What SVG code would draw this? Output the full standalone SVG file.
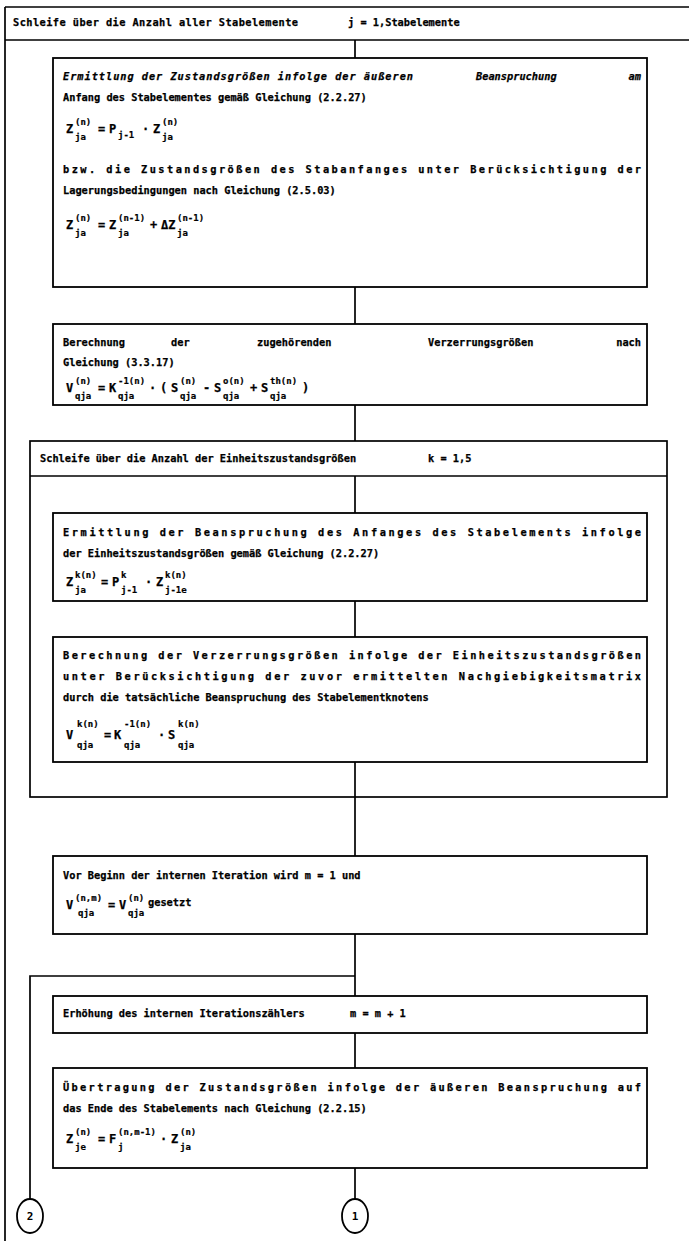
<svg xmlns="http://www.w3.org/2000/svg" width="689" height="1241" viewBox="0 0 689 1241">
<style>
.ln{stroke:#000;stroke-width:1.7;fill:none}
.bx{stroke:#000;stroke-width:1.8;fill:#fff}
.t{font-family:"DejaVu Sans Mono","Liberation Mono",monospace;font-size:10.3px;font-weight:bold;fill:#000;stroke:#000;stroke-width:0.25}
.it{font-style:italic}
.m{font-family:"DejaVu Sans Mono","Liberation Mono",monospace;font-size:12px;font-weight:bold;fill:#000;stroke:#000;stroke-width:0.25}
.s{font-family:"DejaVu Sans Mono","Liberation Mono",monospace;font-size:9px;font-weight:bold;fill:#000;stroke:#000;stroke-width:0.2}
.c{font-family:"DejaVu Sans Mono","Liberation Mono",monospace;font-size:11px;font-weight:bold;fill:#000;text-anchor:middle}
</style>
<rect width="689" height="1241" fill="#fff"/>

<g id="connectors">
<line class="ln" x1="355" y1="40" x2="355" y2="58"/>
<line class="ln" x1="355" y1="287" x2="355" y2="324"/>
<line class="ln" x1="355" y1="405" x2="355" y2="441"/>
<line class="ln" x1="355" y1="476" x2="355" y2="513"/>
<line class="ln" x1="355" y1="601" x2="355" y2="637"/>
<line class="ln" x1="355" y1="762" x2="355" y2="856"/>
<line class="ln" x1="355" y1="934" x2="355" y2="996"/>
<polyline class="ln" points="355,976 30,976 30,1199"/>
<line class="ln" x1="355" y1="1033" x2="355" y2="1068"/>
<line class="ln" x1="355" y1="1168" x2="355" y2="1199"/>
</g>

<g id="outer-loop">
<line class="ln" x1="5" y1="7" x2="689" y2="7"/>
<line class="ln" x1="5" y1="40" x2="689" y2="40"/>
<line class="ln" x1="5" y1="7" x2="5" y2="1241"/>
<text class="t" x="13" y="26" textLength="285" lengthAdjust="spacing">Schleife über die Anzahl aller Stabelemente</text>
<text class="t" x="348" y="26">j = 1,Stabelemente</text>
</g>

<g id="box1">
<rect class="bx" x="53" y="58" width="594" height="229"/>
<text class="t it" x="63" y="80" textLength="350" lengthAdjust="spacing">Ermittlung der Zustandsgrößen infolge der äußeren</text>
<text class="t it" x="476" y="80">Beanspruchung</text>
<text class="t it" x="641" y="80" text-anchor="end">am</text>
<text class="t" x="63" y="101">Anfang des Stabelementes gemäß Gleichung (2.2.27)</text>
<text class="m" x="66" y="133">Z</text><text class="s" x="75" y="125">(n)</text><text class="s" x="75" y="140">ja</text>
<text class="m" x="98" y="133">=</text><text class="m" x="109" y="133">P</text><text class="s" x="118" y="138">j-1</text>
<text class="m" x="142" y="133">·</text><text class="m" x="153" y="133">Z</text><text class="s" x="162" y="125">(n)</text><text class="s" x="162" y="140">ja</text>
<text class="t" x="63" y="173" textLength="578" lengthAdjust="spacing">bzw. die Zustandsgrößen  des Stabanfanges unter Berücksichtigung der</text>
<text class="t" x="63" y="194">Lagerungsbedingungen nach Gleichung (2.5.03)</text>
<text class="m" x="66" y="229">Z</text><text class="s" x="75" y="221">(n)</text><text class="s" x="75" y="236">ja</text>
<text class="m" x="98" y="229">=</text><text class="m" x="109" y="229">Z</text><text class="s" x="118" y="221">(n-1)</text><text class="s" x="118" y="236">ja</text>
<text class="m" x="150" y="229">+</text><text class="m" x="161" y="229">ΔZ</text><text class="s" x="177" y="221">(n-1)</text><text class="s" x="177" y="236">ja</text>
</g>

<g id="box2">
<rect class="bx" x="53" y="324" width="594" height="81"/>
<text class="t" x="63" y="346">Berechnung</text>
<text class="t" x="171" y="346">der</text>
<text class="t" x="257" y="346">zugehörenden</text>
<text class="t" x="428" y="346">Verzerrungsgrößen</text>
<text class="t" x="641" y="346" text-anchor="end">nach</text>
<text class="t" x="63" y="366">Gleichung (3.3.17)</text>
<text class="m" x="66" y="392">V</text><text class="s" x="75" y="384">(n)</text><text class="s" x="75" y="399">qja</text>
<text class="m" x="98" y="392">=</text><text class="m" x="109" y="392">K</text><text class="s" x="118" y="384">-1(n)</text><text class="s" x="118" y="399">qja</text>
<text class="m" x="149" y="392">·</text><text class="m" x="160" y="392">(</text>
<text class="m" x="171" y="392">S</text><text class="s" x="180" y="384">(n)</text><text class="s" x="180" y="399">qja</text>
<text class="m" x="203" y="392">-</text><text class="m" x="214" y="392">S</text><text class="s" x="223" y="384">o(n)</text><text class="s" x="223" y="399">qja</text>
<text class="m" x="250" y="392">+</text><text class="m" x="261" y="392">S</text><text class="s" x="270" y="384">th(n)</text><text class="s" x="270" y="399">qja</text>
<text class="m" x="302" y="392">)</text>
</g>

<g id="inner-loop">
<rect class="ln" x="30" y="441" width="637" height="356"/>
<line class="ln" x1="30" y1="476" x2="667" y2="476"/>
<text class="t" x="40" y="462">Schleife über die Anzahl der Einheitszustandsgrößen</text>
<text class="t" x="428" y="462">k = 1,5</text>
</g>

<g id="box3">
<rect class="bx" x="53" y="513" width="594" height="88"/>
<text class="t" x="63" y="536" textLength="578" lengthAdjust="spacing">Ermittlung der Beanspruchung des Anfanges des  Stabelements  infolge</text>
<text class="t" x="63" y="557">der Einheitszustandsgrößen gemäß Gleichung (2.2.27)</text>
<text class="m" x="66" y="586">Z</text><text class="s" x="75" y="578">k(n)</text><text class="s" x="75" y="593">ja</text>
<text class="m" x="101" y="586">=</text><text class="m" x="112" y="586">P</text><text class="s" x="121" y="578">k</text><text class="s" x="121" y="593">j-1</text>
<text class="m" x="145" y="586">·</text><text class="m" x="156" y="586">Z</text><text class="s" x="165" y="578">k(n)</text><text class="s" x="165" y="593">j-1e</text>
</g>

<g id="box4">
<rect class="bx" x="53" y="637" width="594" height="125"/>
<text class="t" x="63" y="659" textLength="578" lengthAdjust="spacing">Berechnung der Verzerrungsgrößen infolge der  Einheitszustandsgrößen</text>
<text class="t" x="63" y="680" textLength="578" lengthAdjust="spacing">unter Berücksichtigung  der  zuvor ermittelten Nachgiebigkeitsmatrix</text>
<text class="t" x="63" y="701">durch die tatsächliche Beanspruchung des Stabelementknotens</text>
<text class="m" x="66" y="739">V</text><text class="s" x="77" y="727">k(n)</text><text class="s" x="77" y="748">qja</text>
<text class="m" x="104" y="739">=</text><text class="m" x="114" y="739">K</text><text class="s" x="124" y="727">-1(n)</text><text class="s" x="124" y="748">qja</text>
<text class="m" x="158" y="739">·</text><text class="m" x="168" y="739">S</text><text class="s" x="178" y="727">k(n)</text><text class="s" x="178" y="748">qja</text>
</g>

<g id="box5">
<rect class="bx" x="53" y="856" width="594" height="78"/>
<text class="t" x="63" y="879">Vor Beginn der internen Iteration wird m = 1 und</text>
<text class="m" x="66" y="909">V</text><text class="s" x="75" y="901">(n,m)</text><text class="s" x="78" y="916">qja</text>
<text class="m" x="108" y="909">=</text><text class="m" x="119" y="909">V</text><text class="s" x="128" y="901">(n)</text><text class="s" x="128" y="916">qja</text>
<text class="t" x="148" y="906">gesetzt</text>
</g>

<g id="box6">
<rect class="bx" x="53" y="996" width="594" height="37"/>
<text class="t" x="63" y="1017">Erhöhung des internen Iterationszählers</text>
<text class="t" x="350" y="1017">m = m + 1</text>
</g>

<g id="box7">
<rect class="bx" x="53" y="1068" width="594" height="100"/>
<text class="t" x="63" y="1091" textLength="578" lengthAdjust="spacing">Übertragung der Zustandsgrößen infolge der äußeren Beanspruchung auf</text>
<text class="t" x="63" y="1112">das Ende des Stabelements nach Gleichung (2.2.15)</text>
<text class="m" x="66" y="1143">Z</text><text class="s" x="75" y="1135">(n)</text><text class="s" x="75" y="1150">je</text>
<text class="m" x="98" y="1143">=</text><text class="m" x="109" y="1143">F</text><text class="s" x="118" y="1135">(n,m-1)</text><text class="s" x="118" y="1150">j</text>
<text class="m" x="160" y="1143">·</text><text class="m" x="171" y="1143">Z</text><text class="s" x="180" y="1135">(n)</text><text class="s" x="180" y="1150">ja</text>
</g>

<g id="connector-2">
<ellipse class="bx" cx="30" cy="1216" rx="13" ry="17"/>
<text class="c" x="30" y="1220">2</text>
</g>
<g id="connector-1">
<ellipse class="bx" cx="355" cy="1216" rx="13" ry="17"/>
<text class="c" x="355" y="1220">1</text>
</g>
</svg>
